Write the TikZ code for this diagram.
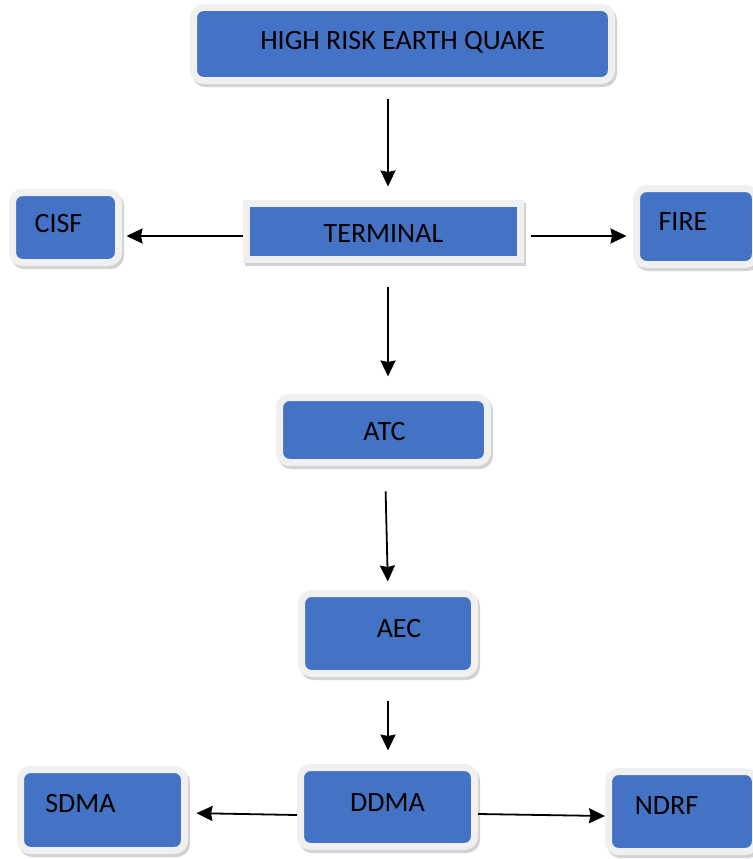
\documentclass[tikz,border=0pt]{standalone}
\usepackage{fontspec}
\setmainfont{Carlito}
\usetikzlibrary{arrows.meta,shadows}
\definecolor{cajaazul}{HTML}{4472C4}
\definecolor{borde}{HTML}{F0F0F0}

\begin{document}
\begin{tikzpicture}[x=1pt,y=-1pt,>={Stealth[length=16pt,width=15pt,inset=1.5pt]},
    caja/.style={draw=borde,fill=cajaazul,line width=7pt,rounded corners=10pt,inner sep=0pt,
      drop shadow={shadow xshift=2pt,shadow yshift=-3pt,fill=black!35,draw=black!35,line width=7pt}},
    texto/.style={font=\fontsize{28}{32}\selectfont,text=black,inner sep=0pt},
    flecha/.style={->,line width=1.8pt,black}]
        \useasboundingbox (0,0) rectangle (752,859);
        % cajas
        \node[caja,minimum width=418pt,minimum height=73pt,label={[texto,shift={(0,-2)}]center:HIGH RISK EARTH QUAKE}] (quake) at (402.5,44) {};
        \node[caja,minimum width=106pt,minimum height=70pt,label={[texto,shift={(-7,-3.5)}]center:CISF}] (cisf) at (65.5,227.5) {};
        \node[caja,sharp corners,minimum width=274pt,minimum height=56pt,label={[texto,shift={(0,2.5)}]center:TERMINAL}] (term) at (383.5,231.5) {};
        \node[caja,minimum width=119pt,minimum height=76pt,label={[texto,shift={(-13,-4.5)}]center:FIRE}] (fire) at (696,226.5) {};
        \node[caja,minimum width=208pt,minimum height=65pt,label={[texto,shift={(1,2)}]center:ATC}] (atc) at (383.5,430) {};
        \node[caja,minimum width=173pt,minimum height=80pt,label={[texto,shift={(11,-4.5)}]center:AEC}] (aec) at (388,633.5) {};
        \node[caja,minimum width=164pt,minimum height=81pt,label={[texto,shift={(-22,-6)}]center:SDMA}] (sdma) at (102.5,810) {};
        \node[caja,minimum width=174pt,minimum height=79pt,label={[texto,shift={(0,-4)}]center:DDMA}] (ddma) at (387.5,807) {};
        \node[caja,minimum width=147pt,minimum height=80pt,label={[texto,shift={(-15.5,-5.5)}]center:NDRF}] (ndrf) at (682,811.5) {};
        % flechas
        \draw[flecha,shorten <=14.5pt,shorten >=13.5pt] ([xshift=-14.5pt]quake.south) -- ([xshift=4.5pt]term.north);
        \draw[flecha,shorten >=4.5pt] ([yshift=-4.5pt]term.west) -- ([yshift=-8.5pt]cisf.east);
        \draw[flecha,shorten <=6.5pt,shorten >=6.5pt] ([yshift=-4.5pt]term.east) -- ([yshift=-9.5pt]fire.west);
        \draw[flecha,shorten <=23.5pt,shorten >=17.5pt] ([xshift=4.5pt]term.south) -- ([xshift=4.5pt]atc.north);
        \draw[flecha,shorten <=25.5pt,shorten >=8.5pt] ([xshift=1.5pt]atc.south) -- (aec.north);
        \draw[flecha,shorten <=23.5pt,shorten >=13.5pt] (aec.south) -- ([xshift=0.5pt]ddma.north);
        \draw[flecha,shorten >=8.5pt] ([yshift=-8pt]ddma.west) -- ([yshift=-3pt]sdma.east);
        \draw[flecha] ([yshift=-7pt]ddma.east) -- ([yshift=-4.5pt]ndrf.west);
      \end{tikzpicture}
\end{document}
